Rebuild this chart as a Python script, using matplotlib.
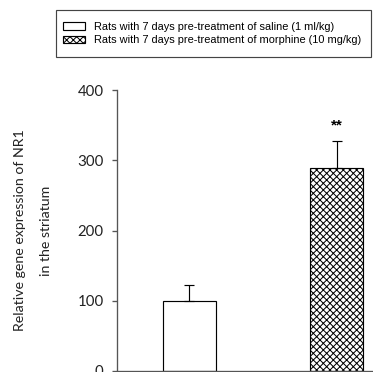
import matplotlib
matplotlib.use("Agg")
import matplotlib.pyplot as plt
from matplotlib.patches import Rectangle

groups = ["Rats with 7 days pre-treatment of saline (1 ml/kg)",
          "Rats with 7 days pre-treatment of morphine (10 mg/kg)"]
means = [100, 289]
errors = [23, 38]
hatches = ["", "xxxxxx"]
signif = ["", "**"]
yticks = [0, 100, 200, 300, 400]

DPI = 120
W, H = 373, 372
plt.rcParams["hatch.linewidth"] = 0.6
fig = plt.figure(figsize=(W / DPI, H / DPI), dpi=DPI)
ax = fig.add_axes([117 / W, 1 / H, 1 - 117 / W, (371 - 90) / H])

xpos = [1, 2]
for x, m, e, h, lab in zip(xpos, means, errors, hatches, groups):
    ax.bar(x, m, width=0.36, color="white", edgecolor="black", hatch=h,
           linewidth=0.7, label=lab, zorder=2)
    ax.errorbar(x, m, yerr=[[0], [e]], fmt="none", ecolor="black",
                elinewidth=0.7, capsize=3, capthick=0.7, zorder=3)

for x, m, e, s in zip(xpos, means, errors, signif):
    if s:
        ax.text(x, m + e + 22, s, ha="center", va="center", fontsize=9,
                fontweight="bold", family="Liberation Sans")

ax.set_xlim(0.507, 2.248)
ax.set_ylim(0, 400)
ax.set_yticks(yticks)
ax.set_xticks([])
ax.spines["top"].set_visible(False)
ax.spines["right"].set_visible(False)
for sp in ("left", "bottom"):
    ax.spines[sp].set_color("#555555")
    ax.spines[sp].set_linewidth(0.8)
ax.tick_params(axis="y", direction="out", length=3, width=0.8, color="#555555",
               pad=5, labelsize=9, labelcolor="#222222")
for t in ax.get_yticklabels():
    t.set_family("Lato")

ax.set_ylabel("Relative gene expression of NR1\nin the striatum", family="Lato",
              fontsize=8.5, color="#222222", linespacing=2.4, labelpad=15)

# legend without its own frame, box drawn separately to get the padding
leg = fig.legend(loc="upper left", bbox_to_anchor=(63 / W, 1 - 22 / H),
                 frameon=False, prop={"family": "Liberation Sans", "size": 6.6},
                 handlelength=2.0, handleheight=0.65, handletextpad=0.8,
                 borderpad=0, labelspacing=0.3, borderaxespad=0)
fig.patches.append(Rectangle((56 / W, 1 - 57 / H), (371 - 56) / W, 47 / H,
                             transform=fig.transFigure, fill=False,
                             edgecolor="#444444", linewidth=0.7))

fig.savefig("out.png", dpi=DPI)
